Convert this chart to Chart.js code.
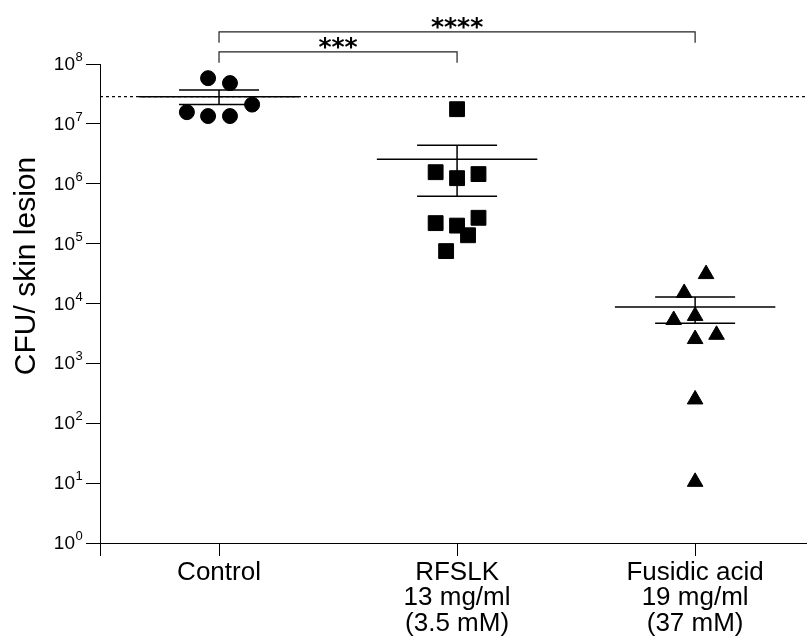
<!DOCTYPE html>
<html>
<head>
<meta charset="utf-8">
<script src="https://cdn.jsdelivr.net/npm/chart.js@4.4.1/dist/chart.umd.min.js"></script>
<style>
  html,body{margin:0;padding:0;background:#fff;}
  #wrap{width:807px;height:638px;position:relative;}
</style>
</head>
<body>
<div id="wrap"><canvas id="chart"></canvas></div>
<script>
'use strict';
const groupLabels=[['Control'],['RFSLK','13 mg/ml','(3.5 mM)'],['Fusidic acid','19 mg/ml','(37 mM)']];
const controlCfu=[5.8e7,4.8e7,2.1e7,1.57e7,1.35e7,1.35e7];
const controlJitter=[-0.046,0.046,0.139,-0.135,-0.046,0.046];
const rfslkCfu=[1.76e7,1.56e6,1.24e6,1.45e6,2.2e5,2.0e5,2.7e5,1.38e5,7.5e4];
const rfslkJitter=[0,-0.09,0,0.09,-0.09,0,0.09,0.046,-0.046];
const fusidicCfu=[3.1e4,1.5e4,5.3e3,6.2e3,3.0e3,2.55e3,250,10.5];
const fusidicJitter=[0.046,-0.046,-0.09,0,0.09,0,0,0];
const meanCfu=[2.85e7,2.57e6,8.7e3];
const semHigh=[3.67e7,4.4e6,1.29e4];
const semLow=[2.1e7,6.2e5,4.7e3];
const baselineCfu=2.85e7;
const yTickPowers=[0,1,2,3,4,5,6,7,8];
const xTicks=[-0.5,0,1,2];
const bracketFrom=[0,0];
const bracketTo=[1,2];
const bracketTop=[1.59e8,3.44e8];
const bracketStars=['***','****'];

const FONT='"Liberation Sans", Arial, sans-serif';
const MEAN_HALF=0.337,CAP_HALF=0.168,DROP=10**-0.18;
const X_MIN=-0.5,X_MAX=2.47;

const pts=(vals,jit,g)=>vals.map((v,i)=>({x:g+jit[i],y:v}));
const lineDs=(data,extra={})=>({data,showLine:true,pointRadius:0,borderColor:'#000',borderWidth:1.5,fill:false,order:2,...extra});

const datasets=[
  {data:pts(controlCfu,controlJitter,0),pointStyle:'circle',pointRadius:7.5,backgroundColor:'#000',borderColor:'#000',order:1},
  {data:pts(rfslkCfu,rfslkJitter,1),pointStyle:'rect',pointRadius:10.5,backgroundColor:'#000',borderColor:'#000',order:1},
  {data:pts(fusidicCfu,fusidicJitter,2),pointStyle:'triangle',pointRadius:9,backgroundColor:'#000',borderColor:'#000',order:1},
  ...meanCfu.map((m,g)=>lineDs([{x:g-MEAN_HALF,y:m},{x:g+MEAN_HALF,y:m}])),
  ...meanCfu.map((_,g)=>lineDs([
    {x:g-CAP_HALF,y:semHigh[g]},{x:g+CAP_HALF,y:semHigh[g]},{x:g,y:semHigh[g]},
    {x:g,y:semLow[g]},{x:g-CAP_HALF,y:semLow[g]},{x:g+CAP_HALF,y:semLow[g]}])),
  lineDs([{x:X_MIN,y:baselineCfu},{x:X_MAX,y:baselineCfu}],{borderDash:[3,3],borderWidth:1.2,order:3}),
  ...bracketTop.map((t,i)=>lineDs([
    {x:bracketFrom[i],y:t*DROP},{x:bracketFrom[i],y:t},{x:bracketTo[i],y:t},{x:bracketTo[i],y:t*DROP}],
    {borderWidth:1.2,borderColor:'#222',clip:false})),
];

const labelsPlugin={
  id:'labels',
  afterDraw(chart){
    const {ctx,scales:{x,y}}=chart;
    ctx.save();
    ctx.fillStyle='#000';
    yTickPowers.forEach(p=>{
      const py=y.getPixelForValue(10**p);
      ctx.font='19px '+FONT;ctx.textAlign='right';ctx.textBaseline='alphabetic';
      ctx.fillText('10',75,py+6);
      ctx.font='13px '+FONT;ctx.textAlign='left';
      ctx.fillText(String(p),75.5,py-3);
    });
    ctx.font='bold 25px "DejaVu Sans", sans-serif';ctx.textAlign='center';ctx.textBaseline='alphabetic';
    bracketTop.forEach((t,i)=>{
      ctx.fillText(bracketStars[i],x.getPixelForValue((bracketFrom[i]+bracketTo[i])/2),y.getPixelForValue(t)+3);
    });
    ctx.translate(35,266);ctx.rotate(-Math.PI/2);
    ctx.font='30px '+FONT;
    ctx.fillText('CFU/ skin lesion',0,0);
    ctx.restore();
  }
};

new Chart(document.getElementById('chart'),{
  type:'scatter',
  data:{datasets},
  options:{
    responsive:true,maintainAspectRatio:false,animation:false,
    layout:{autoPadding:false,padding:{top:64,right:0,left:0,bottom:0}},
    plugins:{legend:{display:false},tooltip:{enabled:false}},
    scales:{
      x:{
        type:'linear',min:X_MIN,max:X_MAX,
        afterBuildTicks:s=>{s.ticks=xTicks.map(v=>({value:v}));},
        afterFit:s=>{s.height=95;s.paddingLeft=0;s.paddingRight=0;},
        grid:{drawOnChartArea:false,drawTicks:true,tickLength:13,color:'#000',lineWidth:1},
        border:{display:true,color:'#000',width:1},
        ticks:{
          autoSkip:false,maxRotation:0,padding:4,color:'#000',
          font:{family:FONT,size:26,lineHeight:0.98},
          callback:(v,i)=>i===0?'':groupLabels[i-1]
        }
      },
      y:{
        type:'logarithmic',min:1,max:1e8,
        afterBuildTicks:s=>{s.ticks=yTickPowers.map(p=>({value:10**p}));},
        afterFit:s=>{s.width=100;s.paddingTop=0;s.paddingBottom=0;},
        grid:{drawOnChartArea:false,drawTicks:true,tickLength:14,color:'#000',lineWidth:1},
        border:{display:true,color:'#000',width:1},
        ticks:{display:false}
      }
    }
  },
  plugins:[labelsPlugin]
});
</script>
</body>
</html>
